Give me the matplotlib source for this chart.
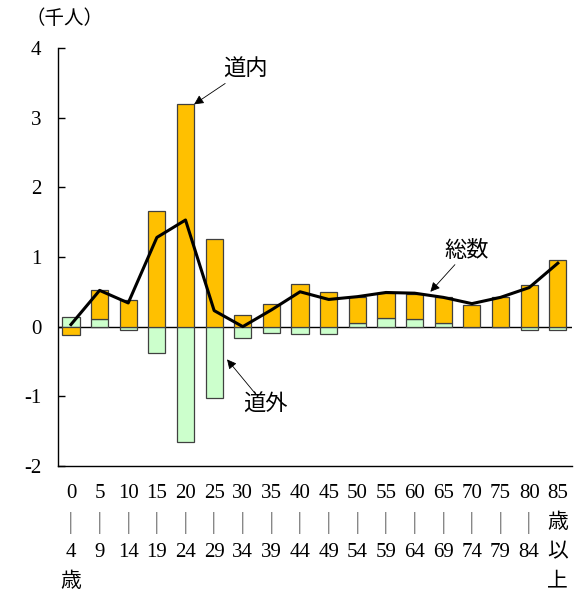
import matplotlib.pyplot as plt
import numpy as np

plt.rcParams['font.family'] = ['Liberation Serif', 'Noto Sans CJK JP']

# 年齢階級
age_from = ['0', '5', '10', '15', '20', '25', '30', '35', '40', '45',
            '50', '55', '60', '65', '70', '75', '80', '85']
age_to = ['4', '9', '14', '19', '24', '29', '34', '39', '44', '49',
          '54', '59', '64', '69', '74', '79', '84', '']

# 転入超過数（千人）
dounai = [-0.115, 0.41, 0.38, 1.66, 3.19, 1.255, 0.166, 0.33, 0.61, 0.50,
          0.38, 0.36, 0.355, 0.37, 0.31, 0.42, 0.60, 0.95]
dougai = [0.14, 0.11, -0.043, -0.38, -1.66, -1.03, -0.164, -0.095, -0.11, -0.11,
          0.05, 0.12, 0.11, 0.05, 0.0, 0.0, -0.045, -0.045]
sousu = [0.03, 0.52, 0.34, 1.28, 1.53, 0.23, 0.0, 0.24, 0.50, 0.39,
         0.43, 0.49, 0.48, 0.42, 0.33, 0.42, 0.56, 0.91]

x = np.arange(len(age_from))
dn = np.array(dounai)
dg = np.array(dougai)
# 同符号なら道外の上に道内を積む
base = np.where(np.sign(dn) == np.sign(dg), dg, 0)

fig = plt.figure(figsize=(5.75, 5.91), dpi=100)
ax = fig.add_axes([0.101, 0.2115, 0.894, 0.7075])

ax.axhline(0, color='black', lw=1.0, zorder=1)
ax.bar(x, dg, width=0.6, color='#CCFFCC', edgecolor='#404040', lw=0.9, zorder=2)
ax.bar(x, dn, width=0.6, bottom=base, color='#FFC000', edgecolor='#404040', lw=0.9, zorder=2)
ax.plot(x, sousu, color='black', lw=2.2, zorder=3)

ax.set_xlim(-0.45, 17.5)
ax.set_ylim(-2, 4)
ax.set_yticks([-2, -1, 0, 1, 2, 3, 4])
ax.set_yticklabels(['-2', '-1', '0', '1', '2', '3', '4'], fontsize=15)
ax.tick_params(axis='y', direction='in', length=5, width=1, pad=12)
ax.set_xticks([])
for s in ['top', 'right']:
    ax.spines[s].set_visible(False)
ax.spines['left'].set_linewidth(1)
ax.spines['bottom'].set_linewidth(1)

# 年齢階級のラベル（縦に並べる）
tr = ax.get_xaxis_transform()
rows = [-0.065, -0.137, -0.207, -0.278]
for i in range(len(x)):
    if age_to[i]:
        col = [age_from[i], '|', age_to[i]]
        if i == 0:
            col.append('歳')
    else:
        col = [age_from[i], '歳', '以', '上']
    for j, t in enumerate(col):
        if t == '|':
            ax.text(x[i], rows[j], t, transform=tr, ha='center', va='center',
                    fontsize=19, color='#888888')
        else:
            ax.text(x[i], rows[j], t, transform=tr, ha='center', va='center',
                    fontsize=15)

fig.text(0.045, 0.968, '（千人）', fontsize=14, va='center', ha='left')

arw = dict(arrowstyle='-|>', color='black', lw=0.6, mutation_scale=14,
           shrinkA=0, shrinkB=0)
ax.annotate('道内', xy=(4.3, 3.19), xytext=(5.3, 3.68), fontsize=16,
            ha='left', va='center', arrowprops=arw)
ax.annotate('道外', xy=(5.45, -0.47), xytext=(6.0, -1.13), fontsize=16,
            ha='left', va='center', arrowprops=arw)
ax.annotate('総数', xy=(12.55, 0.5), xytext=(13.05, 1.08), fontsize=16,
            ha='left', va='center', arrowprops=arw)

fig.savefig('out.png', dpi=100)
